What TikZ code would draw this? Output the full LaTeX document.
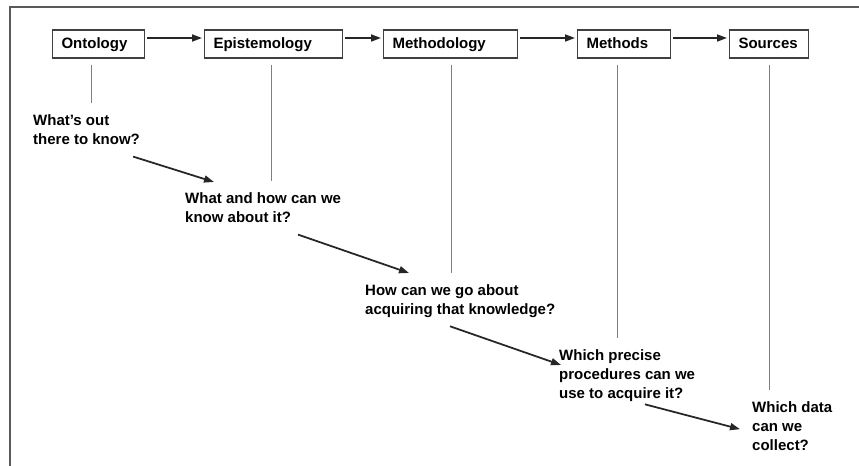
\documentclass[tikz,border=0pt]{standalone}
\usepackage{fontspec}
\setmainfont{Liberation Sans}
\usetikzlibrary{arrows.meta}

\begin{document}
\begin{tikzpicture}[
        box/.style={rectangle, draw=black!75, line width=0.9pt, minimum height=0.84cm, inner xsep=0.27cm, inner ysep=0pt, text height=9.3pt, text depth=1.5pt, align=left, anchor=west, font=\fontsize{12.8}{16.6}\selectfont\bfseries},
        question/.style={inner sep=0pt, align=left, anchor=north west, font=\fontsize{12.8}{16.6}\selectfont\bfseries},
        lead/.style={-{Triangle[length=0.3cm, width=0.21cm]}, line width=1.5pt, black!85},
        flow/.style={lead, shorten <=0.06cm, shorten >=0.06cm},
        stem/.style={black!50, line width=0.8pt},
    ]
        \useasboundingbox (0,0) rectangle (25.77,-13.98);

        % Frame
        \draw[black!65, line width=1.2pt] (25.77,-0.21) -- (0.30,-0.21) -- (0.30,-13.98);

        % Boxes
        \node[box, text width=2.22cm] (ont) at (1.56,-1.32) {Ontology};
        \node[box, text width=3.60cm] (epi) at (6.12,-1.32) {Epistemology};
        \node[box, text width=3.48cm] (meth) at (11.49,-1.32) {Methodology};
        \node[box, text width=2.25cm] (mtd) at (17.31,-1.32) {Methods};
        \node[box, text width=1.83cm] (src) at (21.87,-1.32) {Sources};
        \draw[flow] ([yshift=0.18cm]ont.east) -- ([yshift=0.18cm]epi.west);
        \draw[flow] ([yshift=0.18cm]epi.east) -- ([yshift=0.18cm]meth.west);
        \draw[flow] ([yshift=0.18cm]meth.east) -- ([yshift=0.18cm]mtd.west);
        \draw[flow] ([yshift=0.18cm]mtd.east) -- ([yshift=0.18cm]src.west);

        % Questions
        \node[question] (q1) at (0.99,-3.42) {What's out\\there to know?};
        \node[question] (q2) at (5.55,-5.76) {What and how can we\\know about it?};
        \node[question] (q3) at (10.95,-8.52) {How can we go about\\acquiring that knowledge?};
        \node[question] (q4) at (16.77,-10.47) {Which precise\\procedures can we\\use to acquire it?};
        \node[question] (q5) at (22.56,-12.03) {Which data\\can we\\collect?};
        \draw[lead] ([xshift=-0.21cm,yshift=-0.35cm]q1.south east) -- ([xshift=0.87cm,yshift=0.3cm]q2.north west);
        \draw[lead] ([xshift=3.39cm,yshift=-0.35cm]q2.south west) -- ([xshift=1.32cm,yshift=0.33cm]q3.north west);
        \draw[lead] ([xshift=2.55cm,yshift=-0.25cm]q3.south west) -- ([xshift=0.06cm,yshift=-0.48cm]q4.north west);
        \draw[lead] ([xshift=2.58cm,yshift=-0.06cm]q4.south west) -- ([xshift=-0.36cm,yshift=-0.09cm]q5.west);

        % Stems
        \draw[stem] ([xshift=-0.21cm,yshift=-0.18cm]ont.south) -- ([xshift=-0.21cm,yshift=0.32cm]ont.south |- q1.north);
        \draw[stem] ([xshift=-0.06cm,yshift=-0.18cm]epi.south) -- ([xshift=-0.06cm,yshift=0.32cm]epi.south |- q2.north);
        \draw[stem] ([xshift=0.03cm,yshift=-0.18cm]meth.south) -- ([xshift=0.03cm,yshift=0.32cm]meth.south |- q3.north);
        \draw[stem] ([xshift=-0.2cm,yshift=-0.18cm]mtd.south) -- ([xshift=-0.2cm,yshift=0.32cm]mtd.south |- q4.north);
        \draw[stem] ([yshift=-0.18cm]src.south) -- ([yshift=0.32cm]src.south |- q5.north);
    \end{tikzpicture}
\end{document}
